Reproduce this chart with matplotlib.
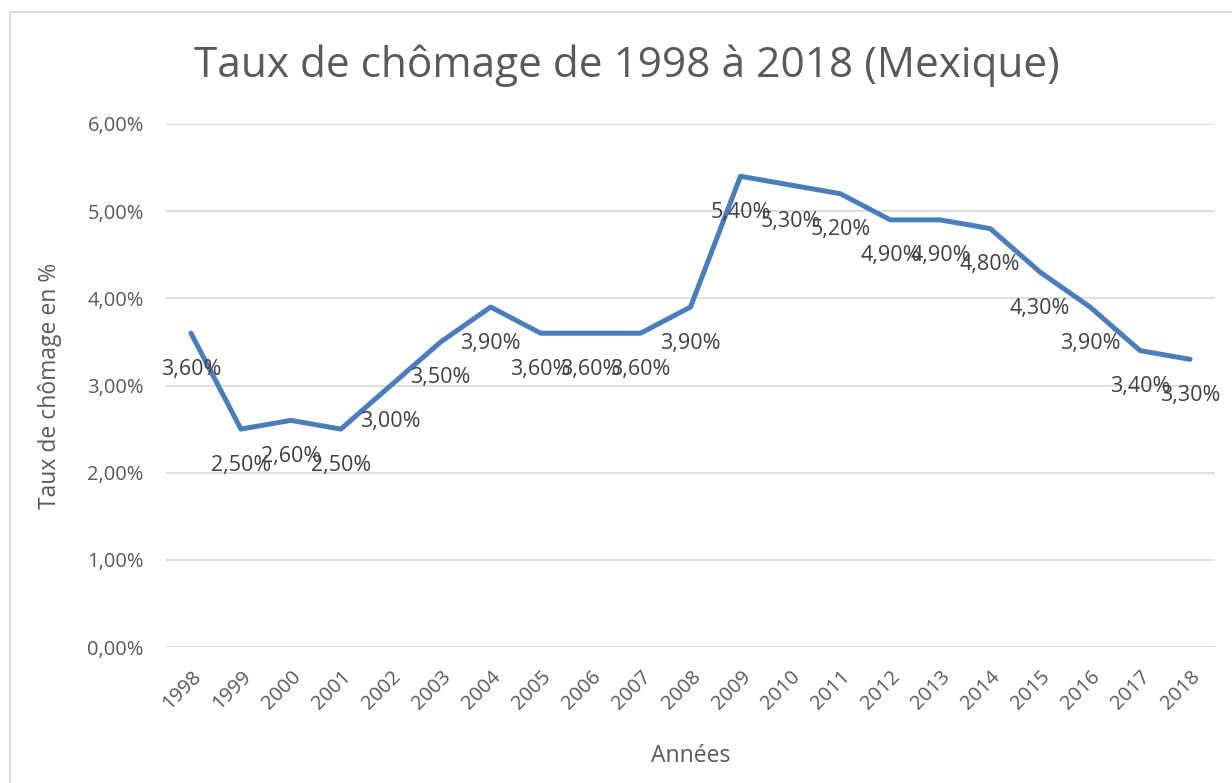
import matplotlib.pyplot as plt
from matplotlib.patches import Rectangle

years = ['1998', '1999', '2000', '2001', '2002', '2003', '2004', '2005', '2006', '2007',
         '2008', '2009', '2010', '2011', '2012', '2013', '2014', '2015', '2016', '2017', '2018']
taux = [3.6, 2.5, 2.6, 2.5, 3.0, 3.5, 3.9, 3.6, 3.6, 3.6,
        3.9, 5.4, 5.3, 5.2, 4.9, 4.9, 4.8, 4.3, 3.9, 3.4, 3.3]
y_ticks = [0, 1, 2, 3, 4, 5, 6]

plt.rcParams['font.family'] = ['Open Sans', 'DejaVu Sans']
gray = '#595959'

fig = plt.figure(figsize=(12.32, 7.83), dpi=100)
ax = fig.add_axes([166 / 1232, 1 - 647 / 783, (1215 - 166) / 1232, (647 - 124) / 783])

# cadre du graphique
fig.patches.append(Rectangle((10 / 1232, -0.1), 1.2, 1 - 12 / 783 + 0.1, transform=fig.transFigure,
                             fill=False, edgecolor='#d9d9d9', linewidth=1.2))

x = list(range(len(years)))
ax.plot(x, taux, color='#4a7ebb', linewidth=3.6, solid_capstyle='round', solid_joinstyle='round', zorder=3)

# étiquettes de données (se chevauchent comme dans l'original)
for xi, v in zip(x, taux):
    ax.annotate(f"{v:.2f}%".replace('.', ','), (xi, v), xytext=(0, -36), textcoords='offset pixels',
                ha='center', va='center', fontsize=15.5, color='#404040', zorder=4)

ax.set_xlim(-0.5, len(years) - 0.5)
ax.set_ylim(0, 6)
ax.set_yticks(y_ticks)
ax.set_yticklabels([f"{t:.2f}%".replace('.', ',') for t in y_ticks], fontsize=14.5, color=gray)
ax.set_xticks(x)
ax.set_xticklabels(years, rotation=45, ha='right', rotation_mode='anchor', fontsize=14.5, color=gray)
ax.tick_params(axis='both', length=0)
ax.tick_params(axis='y', pad=16)
ax.tick_params(axis='x', pad=14)

ax.grid(axis='y', color='#d9d9d9', linewidth=1.2)
ax.set_axisbelow(True)
for s in ax.spines.values():
    s.set_visible(False)

ax.set_ylabel('Taux de chômage en %', fontsize=16.5, color=gray, labelpad=18)
ax.set_xlabel('Années', fontsize=16.5, color=gray, labelpad=22)
fig.text(627 / 1232, 1 - 66 / 783, 'Taux de chômage de 1998 à 2018 (Mexique)', ha='center', va='center',
         fontsize=30.5, color=gray)

fig.savefig('out.png', dpi=100)
